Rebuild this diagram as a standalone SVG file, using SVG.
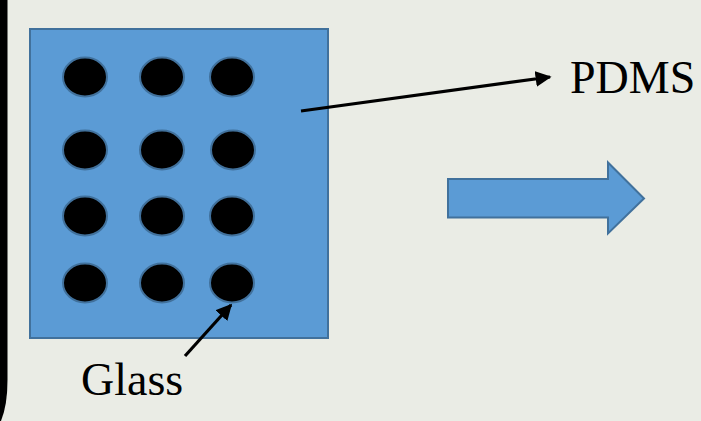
<svg xmlns="http://www.w3.org/2000/svg" width="701" height="421" viewBox="0 0 701 421">
  <defs>
    <style>
      .plate { fill: #5b9bd5; stroke: #41719c; stroke-width: 2; }
      .hole { fill: #000000; stroke: #41719c; stroke-width: 2; }
      .lead { stroke: #000000; stroke-width: 3.2; fill: none; marker-end: url(#tip); }
      .label { font-family: "Liberation Serif", "Times New Roman", serif; font-size: 46px; fill: #000000; }
    </style>
    <marker id="tip" viewBox="0 0 10 10" refX="9" refY="5" markerWidth="5" markerHeight="5" orient="auto" markerUnits="strokeWidth">
      <path d="M0,0 L10,5 L0,10 Z" fill="#000000"/>
    </marker>
  </defs>

  <!-- page background -->
  <rect x="0" y="0" width="701" height="421" fill="#eaece5"/>
  <!-- dark edge along the left -->
  <path d="M0,0 H7.5 V380 Q7.5,405 1,421 H0 Z" fill="#000000"/>

  <!-- PDMS plate with embedded glass holes -->
  <g id="pdms-plate">
    <rect class="plate" x="30" y="29" width="298" height="309"/>
  </g>
  <g id="glass-holes">
    <ellipse class="hole" cx="85" cy="77" rx="22" ry="19.5"/>
    <ellipse class="hole" cx="162" cy="77" rx="22" ry="19.5"/>
    <ellipse class="hole" cx="232" cy="77" rx="22" ry="19.5"/>
    <ellipse class="hole" cx="85" cy="150" rx="22" ry="19.5"/>
    <ellipse class="hole" cx="162" cy="150" rx="22" ry="19.5"/>
    <ellipse class="hole" cx="233" cy="150" rx="22" ry="19.5"/>
    <ellipse class="hole" cx="85" cy="216" rx="22" ry="19.5"/>
    <ellipse class="hole" cx="162" cy="216" rx="22" ry="19.5"/>
    <ellipse class="hole" cx="232" cy="216" rx="22" ry="19.5"/>
    <ellipse class="hole" cx="85" cy="283" rx="22" ry="19.5"/>
    <ellipse class="hole" cx="162" cy="283" rx="22" ry="19.5"/>
    <ellipse class="hole" cx="232" cy="283" rx="22" ry="19.5"/>
  </g>

  <!-- process arrow -->
  <g id="process-arrow">
    <path class="plate" d="M448,179 H608 V162.5 L644,198.5 L608,233.5 V217.5 H448 Z"/>
  </g>

  <!-- labels -->
  <g id="label-pdms">
    <text class="label" x="570" y="93">PDMS</text>
  </g>
  <g id="label-glass">
    <text class="label" x="81" y="395">Glass</text>
  </g>

  <!-- leader lines -->
  <g id="connectors">
    <line class="lead" x1="301" y1="111" x2="550" y2="77"/>
    <line class="lead" x1="185" y1="356" x2="231" y2="305"/>
  </g>
</svg>
